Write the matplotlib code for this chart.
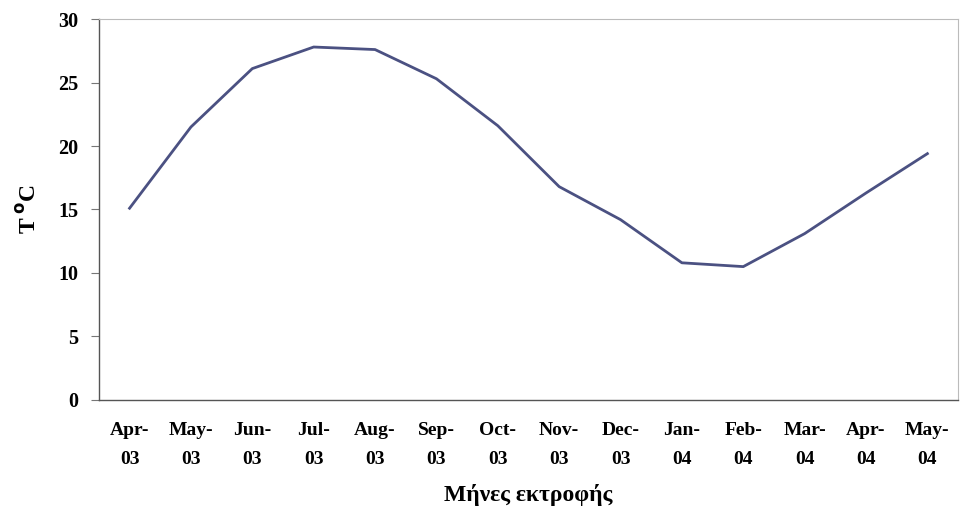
import matplotlib
matplotlib.use("Agg")
import matplotlib.pyplot as plt

months = ["Apr-\n03", "May-\n03", "Jun-\n03", "Jul-\n03", "Aug-\n03", "Sep-\n03", "Oct-\n03",
          "Nov-\n03", "Dec-\n03", "Jan-\n04", "Feb-\n04", "Mar-\n04", "Apr-\n04", "May-\n04"]
temps = [15.1, 21.5, 26.1, 27.8, 27.6, 25.3, 21.6, 16.8, 14.2, 10.8, 10.5, 13.1, 16.3, 19.4]
yticks = [0, 5, 10, 15, 20, 25, 30]

plt.rcParams["font.family"] = ["Liberation Serif", "DejaVu Serif"]
plt.rcParams["font.weight"] = "bold"

fig = plt.figure(figsize=(9.6, 5.16), dpi=100)
ax = fig.add_axes([0.103, 0.225, 0.895, 0.738])

x = list(range(len(months)))
ax.plot(x, temps, color="#4b5182", lw=2.0, solid_joinstyle="round")

ax.set_xlim(-0.5, len(months) - 0.5)
ax.set_ylim(0, 30)
ax.set_yticks(yticks)
ax.set_yticklabels([str(v) for v in yticks], fontsize=14.5, fontweight="bold")
ax.set_xticks(x)
ax.set_xticklabels(months, fontsize=14, fontweight="bold", linespacing=1.95)
ax.tick_params(axis="x", length=0, pad=16)
ax.tick_params(axis="y", length=6, width=0.8, color="#777777", pad=9)

for side in ("left", "bottom"):
    ax.spines[side].set_color("#555555")
    ax.spines[side].set_linewidth(1.0)
for side in ("top", "right"):
    ax.spines[side].set_color("#bbbbbb")
    ax.spines[side].set_linewidth(0.8)

ax.set_ylabel("T$\\,^{\\mathrm{o}}$C", fontsize=17, fontweight="bold", labelpad=12)
ax.set_xlabel("Μήνες εκτροφής", fontsize=17, fontweight="bold", labelpad=11)

fig.savefig("out.png", dpi=100)
